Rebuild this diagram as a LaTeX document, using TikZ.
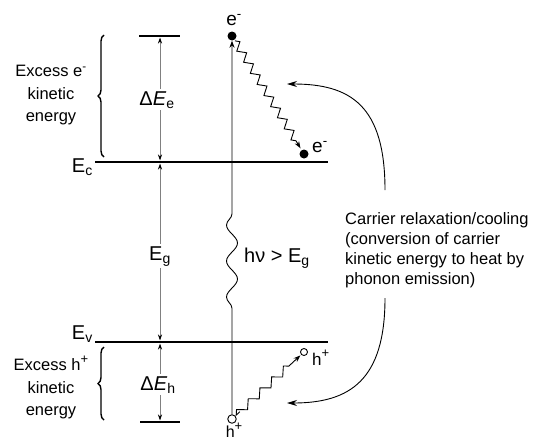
\documentclass[tikz,border=0pt]{standalone}
\usepackage{fontspec}
\setmainfont{Liberation Sans}
\usetikzlibrary{arrows.meta,decorations.pathmorphing,decorations.pathreplacing,calc}
\newcommand{\plussup}{\raisebox{0.42em}{\fontsize{13}{13}\selectfont +}}
\begin{document}
\begin{tikzpicture}[x=1pt,y=-1pt,
  band/.style={line width=2pt},
  dimarrow/.style={draw=black!50, line width=0.8pt,
    {Stealth[length=6pt,width=4pt,black]}-{Stealth[length=6pt,width=4pt,black]}},
  biglab/.style={font=\fontsize{20}{24}\selectfont, inner sep=0pt},
  midlab/.style={font=\fontsize{19}{23}\selectfont, inner sep=0pt},
  smalltxt/.style={font=\fontsize{16.5}{22.5}\selectfont, inner sep=0pt},
  hlab/.style={font=\fontsize{17}{20}\selectfont, inner sep=0pt},
  cbrace/.style={decorate, decoration={brace, amplitude=6pt}, line width=1.4pt},
  electron/.style={circle, fill=black, inner sep=0pt, minimum size=9pt},
  hole/.style={circle, draw=black, line width=0.9pt, fill=white, inner sep=0pt},
  photon/.style={line width=0.9pt, decorate,
    decoration={snake, segment length=36pt, amplitude=5.5pt, pre length=106pt, post length=161pt},
    -{Stealth[length=7pt,width=5pt]}},
  phonon/.style={line width=0.9pt, decorate,
    decoration={zigzag, segment length=#1, amplitude=3.8pt, pre length=1pt, post length=9pt},
    -{Stealth[length=7pt,width=5pt]}},
  curvearrow/.style={line width=0.9pt, -{Stealth[length=10pt,width=6pt]}}
]
\useasboundingbox (0,0) rectangle (537,442);

% bands and level bars
\coordinate (tb1) at (139,36);  \coordinate (tb2) at (180,36);
\coordinate (bb1) at (140,422); \coordinate (bb2) at (180,422);
\coordinate (ec1) at (95,162);  \coordinate (ec2) at (328,162);
\coordinate (ev1) at (95,342);  \coordinate (ev2) at (328,342);
\draw[band] (tb1) -- (tb2);
\draw[band] (bb1) -- (bb2);
\draw[band] (ec1) -- (ec2);
\draw[band] (ev1) -- (ev2);

\node[biglab, anchor=base east] (Eclab) at (93,172) {E\textsubscript{c}};
\node[biglab, anchor=base east] (Evlab) at (93,339) {E\textsubscript{v}};

% dimension arrows
\coordinate (d1) at (160,37.5);  \coordinate (d2) at (160,160.5);
\coordinate (d3) at (160,163.5); \coordinate (d4) at (160,340.5);
\coordinate (d5) at (160,343.5); \coordinate (d6) at (160,420.5);
\draw[dimarrow] (d1) -- (d2);
\draw[dimarrow] (d3) -- (d4);
\draw[dimarrow] (d5) -- (d6);
\node[biglab, anchor=base, fill=white, inner sep=2pt] (dEe) at (157,105) {Δ\textit{E}\textsubscript{e}};
\node[biglab, anchor=base, fill=white, inner sep=2pt] (Eg) at (160,260) {E\textsubscript{g}};
\node[biglab, anchor=base, fill=white, inner sep=2pt] (dEh) at (158,390) {Δ\textit{E}\textsubscript{h}};

% braces and side texts
\coordinate (br1) at (104,157); \coordinate (br2) at (104,35);
\coordinate (br3) at (104,420); \coordinate (br4) at (104,347);
\draw[cbrace] (br1) -- (br2);
\draw[cbrace] (br3) -- (br4);
\node[smalltxt, align=center, anchor=south] (exe) at (51,125.5)
  {Excess e\textsuperscript{-}\\kinetic\\energy};
\node[smalltxt, align=center, anchor=south] (exh) at (51,419.5)
  {Excess h\plussup\\kinetic\\energy};

% carriers
\node[electron] (eTop) at (232,36) {};
\node[midlab, anchor=base] (eTopLab) at (234,25) {e\textsuperscript{-}};
\node[electron] (eLow) at (304,154) {};
\node[midlab, anchor=base west] (eLowLab) at (312,152) {e\textsuperscript{-}};
\node[hole, minimum size=8.5pt] (hBot) at (232,419) {};
\node[hlab, anchor=base, font=\fontsize{16}{18}\selectfont] (hBotLab) at (234,437) {h\plussup};
\node[hole, minimum size=7pt] (hUp) at (304,352) {};
\node[hlab, anchor=base west] (hUpLab) at (312,365) {h\plussup};

% photon absorption
\draw[photon] (hBot) -- (eTop);
\node[biglab, anchor=base west] (hv) at (244,262) {hν > E\textsubscript{g}};

% phonon emission paths
\draw[phonon=13pt, shorten <=1pt, shorten >=2pt] (eTop) -- (eLow);
\draw[phonon=16pt, shorten <=6pt, shorten >=1pt] (hBot) -- (hUp);

% explanation text and curved arrows
\node[smalltxt, align=left, anchor=north west, font=\fontsize{16.5}{20}\selectfont] (txt) at (345,212)
  {Carrier relaxation/cooling\\(conversion of carrier\\kinetic energy to heat by\\phonon emission)};
\coordinate (c1) at (385,190); \coordinate (a1) at (287,84);
\coordinate (c2) at (385,298); \coordinate (a2) at (287,403);
\draw[curvearrow] (c1) .. controls (385,105) and (350,84) .. (a1);
\draw[curvearrow] (c2) .. controls (385,380) and (350,403) .. (a2);
\end{tikzpicture}
\end{document}
